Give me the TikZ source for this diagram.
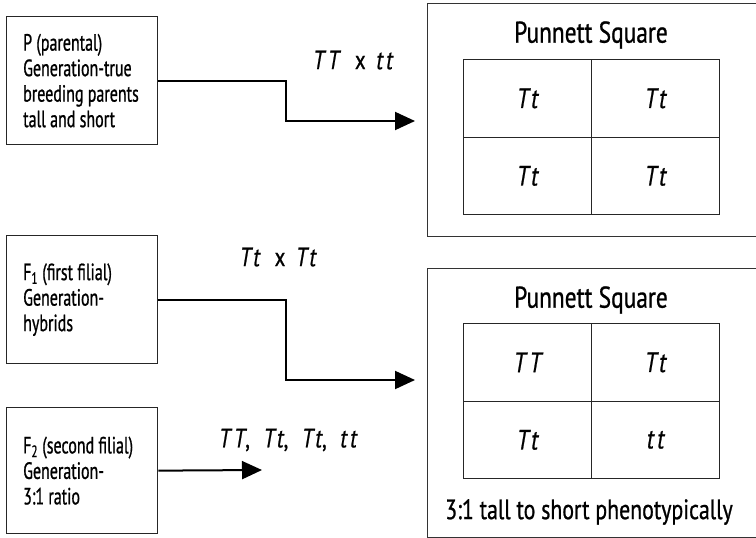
\documentclass[tikz,border=0pt]{standalone}
\usepackage{fontspec}
\setmainfont[FakeStretch=0.68,FakeBold=0.8]{PT Sans}
\newfontfamily\capfont[FakeStretch=0.78,FakeBold=0.8]{PT Sans}
\newfontfamily\labfont[FakeStretch=0.8,FakeBold=0.8,LetterSpace=12,WordSpace=1.2]{PT Sans}
\usetikzlibrary{arrows.meta}
\begin{document}
\begin{tikzpicture}[x=1pt,y=-1pt,
  gbox/.style={draw=black!85, line width=1.3pt, minimum width=151pt, minimum height=128pt,
    inner sep=0pt, anchor=north west},
  gtext/.style={anchor=west, inner sep=0pt, align=left,
    font=\fontsize{23.5}{25.5}\selectfont},
  conn/.style={line width=2pt, -{Triangle[length=20pt,width=18pt]}},
  sqbox/.style={draw=black!80, line width=1.3pt, anchor=north west, inner sep=0pt},
  cell/.style={draw=black!85, line width=1.2pt, minimum width=128pt, minimum height=77.5pt,
    inner sep=0pt, anchor=north west, font=\labfont\fontsize{28}{30}\selectfont\itshape},
  title/.style={font=\capfont\fontsize{30}{32}\selectfont},
  cross/.style={font=\labfont\fontsize{26.5}{28}\selectfont}
]
\useasboundingbox (0,0) rectangle (756,538);

% left boxes
\node[gbox] (P) at (6,16) {};
\node[gbox] (F1) at (6,235) {};
\node[gbox, minimum height=126pt] (F2) at (6,407) {};
\node[gtext] (Pt) at ([xshift=17pt]P.west) {P (parental)\\Generation-true\\breeding parents\\tall and short};
\node[gtext] (F1t) at ([xshift=17pt]F1.west) {F\textsubscript{1} (first filial)\\Generation-\\hybrids};
\node[gtext] (F2t) at ([xshift=17pt]F2.west) {F\textsubscript{2} (second filial)\\Generation-\\3:1 ratio};

% right boxes
\node[sqbox, minimum width=335pt, minimum height=233pt] (S1) at (427,3) {};
\node[sqbox, minimum width=335pt, minimum height=269pt] (S2) at (427,268) {};

\node[title] (T1) at (591,35) {Punnett Square};
\node[title] (T2) at (591,300) {Punnett Square};

% grid 1
\node[cell] (a11) at (463,59) {Tt};
\node[cell] (a12) at (591,59) {Tt};
\node[cell] (a21) at (463,136.5) {Tt};
\node[cell] (a22) at (591,136.5) {Tt};
% grid 2
\node[cell] (b11) at (463,323) {TT};
\node[cell] (b12) at (591,323) {Tt};
\node[cell] (b21) at (463,400.5) {Tt};
\node[cell] (b22) at (591,400.5) {tt};

\node[font=\capfont\fontsize{28}{30}\selectfont] (cap) at (589,512) {3:1 tall to short phenotypically};

% cross labels
\node[cross] (L1) at (355,60) {\textit{TT} x \textit{tt}};
\node[cross] (L2) at (280,257) {\textit{Tt} x \textit{Tt}};
\node[cross] (L3) at (290,440) {\textit{TT},\hspace{3pt} \textit{Tt},\hspace{3pt} \textit{Tt},\hspace{3pt} \textit{tt}};

% arrow tips
\coordinate (tA) at (415,121);
\coordinate (tB) at (415,380);
\coordinate (tC) at (262,470);

\draw[conn] (P.east) -| (286,121) -- (tA);
\draw[conn] (F1.east) -| (286,380) -- (tB);
\draw[conn] (F2.east) -- (tC);
\end{tikzpicture}
\end{document}
